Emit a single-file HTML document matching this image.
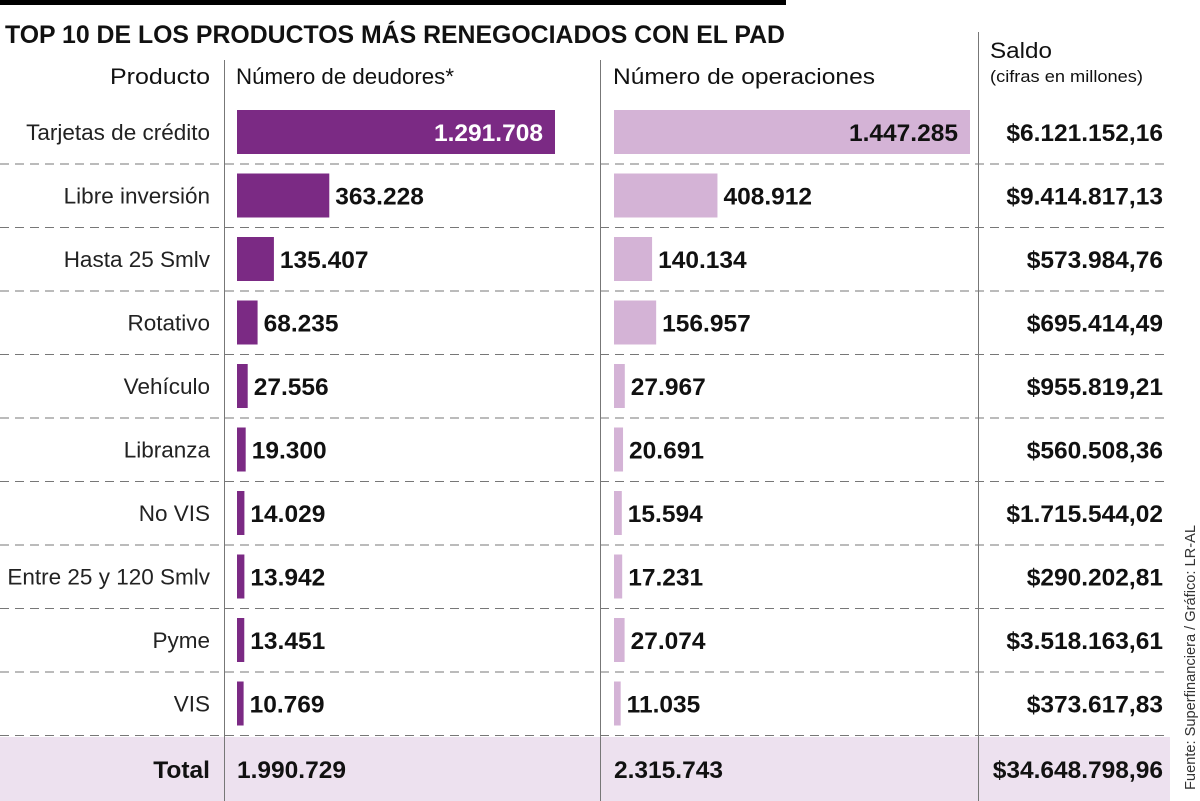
<!DOCTYPE html>
<html><head><meta charset="utf-8"><style>
html,body{margin:0;padding:0;background:#fff;}
svg{display:block;font-family:"Liberation Sans",sans-serif;}
</style></head><body>
<svg id="chart" width="1200" height="801" viewBox="0 0 1200 801" xmlns="http://www.w3.org/2000/svg">
<rect x="0" y="0" width="786" height="5" fill="#000"/>
<text x="5" y="43" font-size="25" font-weight="bold" fill="#111" textLength="780" lengthAdjust="spacingAndGlyphs">TOP 10 DE LOS PRODUCTOS MÁS RENEGOCIADOS CON EL PAD</text>
<rect x="0" y="737" width="1170" height="64" fill="#ede1ef"/>
<g id="rows"></g>
<line x1="224.5" y1="60" x2="224.5" y2="801" stroke="#777" stroke-width="1"/>
<line x1="600.5" y1="60" x2="600.5" y2="801" stroke="#777" stroke-width="1"/>
<line x1="978.5" y1="32" x2="978.5" y2="801" stroke="#777" stroke-width="1"/>
<text x="210" y="84" font-size="22" text-anchor="end" fill="#111" textLength="100" lengthAdjust="spacingAndGlyphs">Producto</text>
<text x="236" y="84" font-size="22" fill="#111" textLength="218" lengthAdjust="spacingAndGlyphs">Número de deudores*</text>
<text x="613" y="84" font-size="22" fill="#111" textLength="262" lengthAdjust="spacingAndGlyphs">Número de operaciones</text>
<text x="990" y="58" font-size="22" fill="#111" textLength="62" lengthAdjust="spacingAndGlyphs">Saldo</text>
<text x="990" y="82" font-size="17" fill="#111" textLength="153" lengthAdjust="spacingAndGlyphs">(cifras en millones)</text>
<text transform="translate(1195,790) rotate(-90)" font-size="15" fill="#333" textLength="265" lengthAdjust="spacingAndGlyphs">Fuente: Superfinanciera / Gráfico: LR-AL</text>
</svg>
<script>
const products = ["Tarjetas de crédito","Libre inversión","Hasta 25 Smlv","Rotativo","Vehículo","Libranza","No VIS","Entre 25 y 120 Smlv","Pyme","VIS"];
const debtors = [1291708,363228,135407,68235,27556,19300,14029,13942,13451,10769];
const operations = [1447285,408912,140134,156957,27967,20691,15594,17231,27074,11035];
const balances = ["$6.121.152,16","$9.414.817,13","$573.984,76","$695.414,49","$955.819,21","$560.508,36","$1.715.544,02","$290.202,81","$3.518.163,61","$373.617,83"];
const totals = ["1.990.729","2.315.743","$34.648.798,96"];

const NS = "http://www.w3.org/2000/svg";
const g = document.getElementById("rows");
const rowY = i => 100 + 63.5 * i;
const xDeb = v => 4 + v * (314 / 1291708);
const xOps = v => 4 + v * (352 / 1447285);
const fmt = v => v.toString().replace(/\B(?=(\d{3})+(?!\d))/g, ".");
const VS = 24.5;
function mk(tag, attrs, txt) {
  const e = document.createElementNS(NS, tag);
  for (const k in attrs) e.setAttribute(k, attrs[k]);
  if (txt !== undefined) e.textContent = txt;
  g.appendChild(e);
  return e;
}
products.forEach((p, i) => {
  const y = rowY(i), cy = y + 32;
  let t = mk("text", {x: 210, y: cy + 8, "font-size": 22.5, "text-anchor": "end", fill: "#222"}, p);
  
  
  const wd = xDeb(debtors[i]);
  let b = mk("rect", {x: 237, y: y + 10, width: wd, height: 44, fill: "#7b2a84"});
  
  
  const inside = wd > 150;
  let l = mk("text", {x: inside ? 237 + wd - 12 : 237 + wd + 6, y: cy + 9, "font-size": VS, "font-weight": "bold", "text-anchor": inside ? "end" : "start", fill: inside ? "#fff" : "#111"}, fmt(debtors[i]));
  
  
  const wo = xOps(operations[i]);
  let b2 = mk("rect", {x: 614, y: y + 10, width: wo, height: 44, fill: "#d4b3d6"});
  
  
  const in2 = wo > 150;
  let l2 = mk("text", {x: in2 ? 614 + wo - 12 : 614 + wo + 6, y: cy + 9, "font-size": VS, "font-weight": "bold", "text-anchor": in2 ? "end" : "start", fill: "#111"}, fmt(operations[i]));
  
  
  let s = mk("text", {x: 1163, y: cy + 9, "font-size": VS, "font-weight": "bold", "text-anchor": "end", fill: "#111"}, balances[i]);
  
  
  let d = mk("line", {x1: 0, x2: 1170, y1: y + 64, y2: y + 64, stroke: "#777", "stroke-width": 1, "stroke-dasharray": "9,6"});
  
  
});
const ty = 778;
let tl = mk("text", {x: 210, y: ty, "font-size": VS, "font-weight": "bold", "text-anchor": "end", fill: "#111"}, "Total");


let t1 = mk("text", {x: 237, y: ty, "font-size": VS, "font-weight": "bold", fill: "#111"}, totals[0]);


let t2 = mk("text", {x: 614, y: ty, "font-size": VS, "font-weight": "bold", fill: "#111"}, totals[1]);


let t3 = mk("text", {x: 1163, y: ty, "font-size": VS, "font-weight": "bold", "text-anchor": "end", fill: "#111"}, totals[2]);


</script>
</body></html>
